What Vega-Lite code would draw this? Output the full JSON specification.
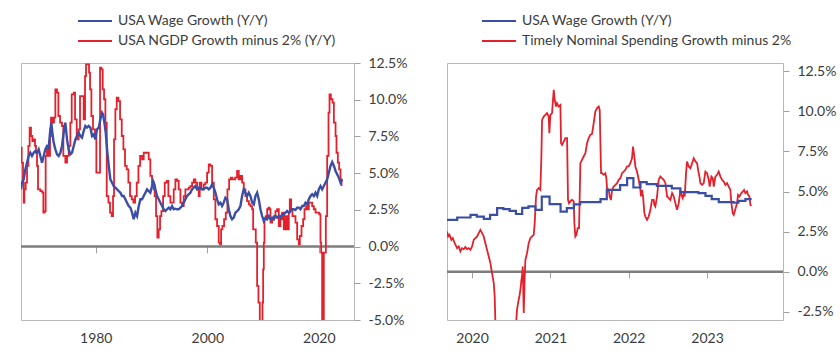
{
  "$schema": "https://vega.github.io/schema/vega-lite/v6.json",
  "padding": {"left": 19, "top": 13, "right": 0, "bottom": 0},
  "background": "white",
  "datasets": {
    "left": [
      {"series":"USA NGDP Growth minus 2% (Y/Y)","year":1966.60,"value":6.73},
      {"series":"USA NGDP Growth minus 2% (Y/Y)","year":1966.72,"value":5.71},
      {"series":"USA NGDP Growth minus 2% (Y/Y)","year":1966.96,"value":4.35},
      {"series":"USA NGDP Growth minus 2% (Y/Y)","year":1967.08,"value":2.99},
      {"series":"USA NGDP Growth minus 2% (Y/Y)","year":1967.20,"value":3.90},
      {"series":"USA NGDP Growth minus 2% (Y/Y)","year":1967.44,"value":4.35},
      {"series":"USA NGDP Growth minus 2% (Y/Y)","year":1967.68,"value":5.49},
      {"series":"USA NGDP Growth minus 2% (Y/Y)","year":1967.92,"value":6.85},
      {"series":"USA NGDP Growth minus 2% (Y/Y)","year":1968.15,"value":8.10},
      {"series":"USA NGDP Growth minus 2% (Y/Y)","year":1968.39,"value":7.53},
      {"series":"USA NGDP Growth minus 2% (Y/Y)","year":1968.63,"value":7.19},
      {"series":"USA NGDP Growth minus 2% (Y/Y)","year":1968.87,"value":7.30},
      {"series":"USA NGDP Growth minus 2% (Y/Y)","year":1969.11,"value":6.85},
      {"series":"USA NGDP Growth minus 2% (Y/Y)","year":1969.29,"value":6.39},
      {"series":"USA NGDP Growth minus 2% (Y/Y)","year":1969.47,"value":5.49},
      {"series":"USA NGDP Growth minus 2% (Y/Y)","year":1969.65,"value":3.90},
      {"series":"USA NGDP Growth minus 2% (Y/Y)","year":1970.07,"value":3.78},
      {"series":"USA NGDP Growth minus 2% (Y/Y)","year":1970.43,"value":3.67},
      {"series":"USA NGDP Growth minus 2% (Y/Y)","year":1970.61,"value":2.31},
      {"series":"USA NGDP Growth minus 2% (Y/Y)","year":1970.85,"value":2.42},
      {"series":"USA NGDP Growth minus 2% (Y/Y)","year":1971.02,"value":6.17},
      {"series":"USA NGDP Growth minus 2% (Y/Y)","year":1971.26,"value":6.73},
      {"series":"USA NGDP Growth minus 2% (Y/Y)","year":1971.56,"value":6.17},
      {"series":"USA NGDP Growth minus 2% (Y/Y)","year":1971.80,"value":7.53},
      {"series":"USA NGDP Growth minus 2% (Y/Y)","year":1971.98,"value":8.78},
      {"series":"USA NGDP Growth minus 2% (Y/Y)","year":1972.22,"value":8.44},
      {"series":"USA NGDP Growth minus 2% (Y/Y)","year":1972.52,"value":8.78},
      {"series":"USA NGDP Growth minus 2% (Y/Y)","year":1972.76,"value":10.71},
      {"series":"USA NGDP Growth minus 2% (Y/Y)","year":1973.06,"value":10.48},
      {"series":"USA NGDP Growth minus 2% (Y/Y)","year":1973.30,"value":8.89},
      {"series":"USA NGDP Growth minus 2% (Y/Y)","year":1973.60,"value":8.44},
      {"series":"USA NGDP Growth minus 2% (Y/Y)","year":1973.95,"value":8.21},
      {"series":"USA NGDP Growth minus 2% (Y/Y)","year":1974.19,"value":6.17},
      {"series":"USA NGDP Growth minus 2% (Y/Y)","year":1974.55,"value":5.71},
      {"series":"USA NGDP Growth minus 2% (Y/Y)","year":1974.85,"value":6.17},
      {"series":"USA NGDP Growth minus 2% (Y/Y)","year":1975.15,"value":6.85},
      {"series":"USA NGDP Growth minus 2% (Y/Y)","year":1975.45,"value":8.44},
      {"series":"USA NGDP Growth minus 2% (Y/Y)","year":1975.69,"value":10.37},
      {"series":"USA NGDP Growth minus 2% (Y/Y)","year":1976.05,"value":10.48},
      {"series":"USA NGDP Growth minus 2% (Y/Y)","year":1976.29,"value":8.66},
      {"series":"USA NGDP Growth minus 2% (Y/Y)","year":1976.59,"value":7.30},
      {"series":"USA NGDP Growth minus 2% (Y/Y)","year":1976.94,"value":7.98},
      {"series":"USA NGDP Growth minus 2% (Y/Y)","year":1977.18,"value":10.25},
      {"series":"USA NGDP Growth minus 2% (Y/Y)","year":1977.54,"value":10.25},
      {"series":"USA NGDP Growth minus 2% (Y/Y)","year":1977.84,"value":8.66},
      {"series":"USA NGDP Growth minus 2% (Y/Y)","year":1978.08,"value":11.61},
      {"series":"USA NGDP Growth minus 2% (Y/Y)","year":1978.26,"value":12.41},
      {"series":"USA NGDP Growth minus 2% (Y/Y)","year":1978.56,"value":12.41},
      {"series":"USA NGDP Growth minus 2% (Y/Y)","year":1978.80,"value":11.84},
      {"series":"USA NGDP Growth minus 2% (Y/Y)","year":1978.98,"value":10.71},
      {"series":"USA NGDP Growth minus 2% (Y/Y)","year":1979.22,"value":8.89},
      {"series":"USA NGDP Growth minus 2% (Y/Y)","year":1979.51,"value":7.98},
      {"series":"USA NGDP Growth minus 2% (Y/Y)","year":1979.87,"value":7.53},
      {"series":"USA NGDP Growth minus 2% (Y/Y)","year":1980.11,"value":5.03},
      {"series":"USA NGDP Growth minus 2% (Y/Y)","year":1980.47,"value":5.03},
      {"series":"USA NGDP Growth minus 2% (Y/Y)","year":1980.77,"value":12.18},
      {"series":"USA NGDP Growth minus 2% (Y/Y)","year":1981.01,"value":12.07},
      {"series":"USA NGDP Growth minus 2% (Y/Y)","year":1981.25,"value":10.71},
      {"series":"USA NGDP Growth minus 2% (Y/Y)","year":1981.49,"value":10.03},
      {"series":"USA NGDP Growth minus 2% (Y/Y)","year":1981.73,"value":8.44},
      {"series":"USA NGDP Growth minus 2% (Y/Y)","year":1981.97,"value":3.44},
      {"series":"USA NGDP Growth minus 2% (Y/Y)","year":1982.27,"value":2.99},
      {"series":"USA NGDP Growth minus 2% (Y/Y)","year":1982.56,"value":2.31},
      {"series":"USA NGDP Growth minus 2% (Y/Y)","year":1982.86,"value":2.08},
      {"series":"USA NGDP Growth minus 2% (Y/Y)","year":1983.10,"value":3.44},
      {"series":"USA NGDP Growth minus 2% (Y/Y)","year":1983.28,"value":7.30},
      {"series":"USA NGDP Growth minus 2% (Y/Y)","year":1983.52,"value":9.35},
      {"series":"USA NGDP Growth minus 2% (Y/Y)","year":1983.76,"value":10.14},
      {"series":"USA NGDP Growth minus 2% (Y/Y)","year":1984.06,"value":9.91},
      {"series":"USA NGDP Growth minus 2% (Y/Y)","year":1984.36,"value":8.66},
      {"series":"USA NGDP Growth minus 2% (Y/Y)","year":1984.66,"value":7.53},
      {"series":"USA NGDP Growth minus 2% (Y/Y)","year":1984.96,"value":6.62},
      {"series":"USA NGDP Growth minus 2% (Y/Y)","year":1985.25,"value":5.49},
      {"series":"USA NGDP Growth minus 2% (Y/Y)","year":1985.55,"value":5.26},
      {"series":"USA NGDP Growth minus 2% (Y/Y)","year":1985.85,"value":4.35},
      {"series":"USA NGDP Growth minus 2% (Y/Y)","year":1986.15,"value":3.44},
      {"series":"USA NGDP Growth minus 2% (Y/Y)","year":1986.45,"value":3.22},
      {"series":"USA NGDP Growth minus 2% (Y/Y)","year":1986.75,"value":2.99},
      {"series":"USA NGDP Growth minus 2% (Y/Y)","year":1987.05,"value":3.44},
      {"series":"USA NGDP Growth minus 2% (Y/Y)","year":1987.35,"value":4.35},
      {"series":"USA NGDP Growth minus 2% (Y/Y)","year":1987.65,"value":5.49},
      {"series":"USA NGDP Growth minus 2% (Y/Y)","year":1987.95,"value":6.17},
      {"series":"USA NGDP Growth minus 2% (Y/Y)","year":1988.30,"value":5.94},
      {"series":"USA NGDP Growth minus 2% (Y/Y)","year":1988.60,"value":6.39},
      {"series":"USA NGDP Growth minus 2% (Y/Y)","year":1989.20,"value":6.39},
      {"series":"USA NGDP Growth minus 2% (Y/Y)","year":1989.50,"value":5.94},
      {"series":"USA NGDP Growth minus 2% (Y/Y)","year":1989.79,"value":4.81},
      {"series":"USA NGDP Growth minus 2% (Y/Y)","year":1990.09,"value":4.35},
      {"series":"USA NGDP Growth minus 2% (Y/Y)","year":1990.39,"value":3.90},
      {"series":"USA NGDP Growth minus 2% (Y/Y)","year":1990.57,"value":3.44},
      {"series":"USA NGDP Growth minus 2% (Y/Y)","year":1990.81,"value":2.08},
      {"series":"USA NGDP Growth minus 2% (Y/Y)","year":1991.05,"value":0.61},
      {"series":"USA NGDP Growth minus 2% (Y/Y)","year":1991.29,"value":1.17},
      {"series":"USA NGDP Growth minus 2% (Y/Y)","year":1991.53,"value":2.08},
      {"series":"USA NGDP Growth minus 2% (Y/Y)","year":1991.77,"value":2.42},
      {"series":"USA NGDP Growth minus 2% (Y/Y)","year":1992.07,"value":3.44},
      {"series":"USA NGDP Growth minus 2% (Y/Y)","year":1992.37,"value":4.35},
      {"series":"USA NGDP Growth minus 2% (Y/Y)","year":1992.72,"value":4.47},
      {"series":"USA NGDP Growth minus 2% (Y/Y)","year":1993.02,"value":3.44},
      {"series":"USA NGDP Growth minus 2% (Y/Y)","year":1993.38,"value":2.99},
      {"series":"USA NGDP Growth minus 2% (Y/Y)","year":1993.68,"value":2.99},
      {"series":"USA NGDP Growth minus 2% (Y/Y)","year":1993.98,"value":3.90},
      {"series":"USA NGDP Growth minus 2% (Y/Y)","year":1994.28,"value":4.58},
      {"series":"USA NGDP Growth minus 2% (Y/Y)","year":1994.58,"value":4.47},
      {"series":"USA NGDP Growth minus 2% (Y/Y)","year":1994.88,"value":3.90},
      {"series":"USA NGDP Growth minus 2% (Y/Y)","year":1995.18,"value":2.99},
      {"series":"USA NGDP Growth minus 2% (Y/Y)","year":1995.47,"value":2.76},
      {"series":"USA NGDP Growth minus 2% (Y/Y)","year":1995.77,"value":3.44},
      {"series":"USA NGDP Growth minus 2% (Y/Y)","year":1996.07,"value":3.90},
      {"series":"USA NGDP Growth minus 2% (Y/Y)","year":1996.67,"value":4.01},
      {"series":"USA NGDP Growth minus 2% (Y/Y)","year":1996.97,"value":4.12},
      {"series":"USA NGDP Growth minus 2% (Y/Y)","year":1997.27,"value":4.35},
      {"series":"USA NGDP Growth minus 2% (Y/Y)","year":1997.57,"value":4.58},
      {"series":"USA NGDP Growth minus 2% (Y/Y)","year":1997.87,"value":4.35},
      {"series":"USA NGDP Growth minus 2% (Y/Y)","year":1998.17,"value":3.90},
      {"series":"USA NGDP Growth minus 2% (Y/Y)","year":1998.46,"value":3.44},
      {"series":"USA NGDP Growth minus 2% (Y/Y)","year":1998.64,"value":4.35},
      {"series":"USA NGDP Growth minus 2% (Y/Y)","year":1998.94,"value":3.90},
      {"series":"USA NGDP Growth minus 2% (Y/Y)","year":1999.36,"value":4.24},
      {"series":"USA NGDP Growth minus 2% (Y/Y)","year":1999.66,"value":4.35},
      {"series":"USA NGDP Growth minus 2% (Y/Y)","year":1999.96,"value":5.03},
      {"series":"USA NGDP Growth minus 2% (Y/Y)","year":2000.26,"value":5.60},
      {"series":"USA NGDP Growth minus 2% (Y/Y)","year":2000.56,"value":5.49},
      {"series":"USA NGDP Growth minus 2% (Y/Y)","year":2000.86,"value":4.35},
      {"series":"USA NGDP Growth minus 2% (Y/Y)","year":2001.16,"value":3.22},
      {"series":"USA NGDP Growth minus 2% (Y/Y)","year":2001.45,"value":1.86},
      {"series":"USA NGDP Growth minus 2% (Y/Y)","year":2001.75,"value":1.40},
      {"series":"USA NGDP Growth minus 2% (Y/Y)","year":2002.05,"value":0.27},
      {"series":"USA NGDP Growth minus 2% (Y/Y)","year":2002.29,"value":0.15},
      {"series":"USA NGDP Growth minus 2% (Y/Y)","year":2002.47,"value":1.17},
      {"series":"USA NGDP Growth minus 2% (Y/Y)","year":2002.71,"value":1.40},
      {"series":"USA NGDP Growth minus 2% (Y/Y)","year":2003.01,"value":1.86},
      {"series":"USA NGDP Growth minus 2% (Y/Y)","year":2003.31,"value":2.31},
      {"series":"USA NGDP Growth minus 2% (Y/Y)","year":2003.61,"value":3.90},
      {"series":"USA NGDP Growth minus 2% (Y/Y)","year":2003.91,"value":4.58},
      {"series":"USA NGDP Growth minus 2% (Y/Y)","year":2004.20,"value":4.69},
      {"series":"USA NGDP Growth minus 2% (Y/Y)","year":2004.50,"value":4.58},
      {"series":"USA NGDP Growth minus 2% (Y/Y)","year":2004.98,"value":4.69},
      {"series":"USA NGDP Growth minus 2% (Y/Y)","year":2005.34,"value":5.15},
      {"series":"USA NGDP Growth minus 2% (Y/Y)","year":2005.64,"value":4.58},
      {"series":"USA NGDP Growth minus 2% (Y/Y)","year":2005.94,"value":4.81},
      {"series":"USA NGDP Growth minus 2% (Y/Y)","year":2006.24,"value":4.35},
      {"series":"USA NGDP Growth minus 2% (Y/Y)","year":2006.54,"value":3.90},
      {"series":"USA NGDP Growth minus 2% (Y/Y)","year":2006.84,"value":3.44},
      {"series":"USA NGDP Growth minus 2% (Y/Y)","year":2007.13,"value":3.10},
      {"series":"USA NGDP Growth minus 2% (Y/Y)","year":2007.44,"value":2.88},
      {"series":"USA NGDP Growth minus 2% (Y/Y)","year":2007.74,"value":2.76},
      {"series":"USA NGDP Growth minus 2% (Y/Y)","year":2008.04,"value":2.54},
      {"series":"USA NGDP Growth minus 2% (Y/Y)","year":2008.22,"value":1.17},
      {"series":"USA NGDP Growth minus 2% (Y/Y)","year":2008.52,"value":1.17},
      {"series":"USA NGDP Growth minus 2% (Y/Y)","year":2008.69,"value":0.27},
      {"series":"USA NGDP Growth minus 2% (Y/Y)","year":2008.93,"value":-2.68},
      {"series":"USA NGDP Growth minus 2% (Y/Y)","year":2009.17,"value":-3.82},
      {"series":"USA NGDP Growth minus 2% (Y/Y)","year":2009.41,"value":-5.07},
      {"series":"USA NGDP Growth minus 2% (Y/Y)","year":2009.71,"value":-5.07},
      {"series":"USA NGDP Growth minus 2% (Y/Y)","year":2009.89,"value":-3.82},
      {"series":"USA NGDP Growth minus 2% (Y/Y)","year":2010.01,"value":-1.55},
      {"series":"USA NGDP Growth minus 2% (Y/Y)","year":2010.13,"value":0.27},
      {"series":"USA NGDP Growth minus 2% (Y/Y)","year":2010.25,"value":1.86},
      {"series":"USA NGDP Growth minus 2% (Y/Y)","year":2010.49,"value":2.08},
      {"series":"USA NGDP Growth minus 2% (Y/Y)","year":2010.73,"value":2.54},
      {"series":"USA NGDP Growth minus 2% (Y/Y)","year":2010.97,"value":2.65},
      {"series":"USA NGDP Growth minus 2% (Y/Y)","year":2011.15,"value":2.54},
      {"series":"USA NGDP Growth minus 2% (Y/Y)","year":2011.33,"value":1.63},
      {"series":"USA NGDP Growth minus 2% (Y/Y)","year":2011.62,"value":1.86},
      {"series":"USA NGDP Growth minus 2% (Y/Y)","year":2011.92,"value":2.08},
      {"series":"USA NGDP Growth minus 2% (Y/Y)","year":2012.22,"value":2.42},
      {"series":"USA NGDP Growth minus 2% (Y/Y)","year":2012.52,"value":2.54},
      {"series":"USA NGDP Growth minus 2% (Y/Y)","year":2012.82,"value":1.40},
      {"series":"USA NGDP Growth minus 2% (Y/Y)","year":2013.12,"value":1.86},
      {"series":"USA NGDP Growth minus 2% (Y/Y)","year":2013.42,"value":2.31},
      {"series":"USA NGDP Growth minus 2% (Y/Y)","year":2013.72,"value":1.17},
      {"series":"USA NGDP Growth minus 2% (Y/Y)","year":2014.02,"value":2.08},
      {"series":"USA NGDP Growth minus 2% (Y/Y)","year":2014.31,"value":1.17},
      {"series":"USA NGDP Growth minus 2% (Y/Y)","year":2014.61,"value":2.31},
      {"series":"USA NGDP Growth minus 2% (Y/Y)","year":2014.79,"value":3.22},
      {"series":"USA NGDP Growth minus 2% (Y/Y)","year":2015.03,"value":2.54},
      {"series":"USA NGDP Growth minus 2% (Y/Y)","year":2015.27,"value":2.08},
      {"series":"USA NGDP Growth minus 2% (Y/Y)","year":2015.57,"value":2.08},
      {"series":"USA NGDP Growth minus 2% (Y/Y)","year":2015.81,"value":1.63},
      {"series":"USA NGDP Growth minus 2% (Y/Y)","year":2016.11,"value":0.49},
      {"series":"USA NGDP Growth minus 2% (Y/Y)","year":2016.41,"value":0.15},
      {"series":"USA NGDP Growth minus 2% (Y/Y)","year":2016.59,"value":0.72},
      {"series":"USA NGDP Growth minus 2% (Y/Y)","year":2016.89,"value":1.40},
      {"series":"USA NGDP Growth minus 2% (Y/Y)","year":2017.18,"value":1.86},
      {"series":"USA NGDP Growth minus 2% (Y/Y)","year":2017.42,"value":2.54},
      {"series":"USA NGDP Growth minus 2% (Y/Y)","year":2017.72,"value":2.76},
      {"series":"USA NGDP Growth minus 2% (Y/Y)","year":2017.96,"value":2.54},
      {"series":"USA NGDP Growth minus 2% (Y/Y)","year":2018.20,"value":2.99},
      {"series":"USA NGDP Growth minus 2% (Y/Y)","year":2018.50,"value":2.99},
      {"series":"USA NGDP Growth minus 2% (Y/Y)","year":2018.80,"value":2.76},
      {"series":"USA NGDP Growth minus 2% (Y/Y)","year":2019.10,"value":2.54},
      {"series":"USA NGDP Growth minus 2% (Y/Y)","year":2019.40,"value":2.31},
      {"series":"USA NGDP Growth minus 2% (Y/Y)","year":2019.76,"value":2.31},
      {"series":"USA NGDP Growth minus 2% (Y/Y)","year":2020.06,"value":2.20},
      {"series":"USA NGDP Growth minus 2% (Y/Y)","year":2020.29,"value":0.27},
      {"series":"USA NGDP Growth minus 2% (Y/Y)","year":2020.41,"value":-0.41},
      {"series":"USA NGDP Growth minus 2% (Y/Y)","year":2020.59,"value":-9.0},
      {"series":"USA NGDP Growth minus 2% (Y/Y)","year":2020.77,"value":-9.0},
      {"series":"USA NGDP Growth minus 2% (Y/Y)","year":2020.89,"value":-0.41},
      {"series":"USA NGDP Growth minus 2% (Y/Y)","year":2021.07,"value":-0.41},
      {"series":"USA NGDP Growth minus 2% (Y/Y)","year":2021.25,"value":2.08},
      {"series":"USA NGDP Growth minus 2% (Y/Y)","year":2021.49,"value":6.17},
      {"series":"USA NGDP Growth minus 2% (Y/Y)","year":2021.73,"value":9.12},
      {"series":"USA NGDP Growth minus 2% (Y/Y)","year":2021.91,"value":10.37},
      {"series":"USA NGDP Growth minus 2% (Y/Y)","year":2022.15,"value":10.03},
      {"series":"USA NGDP Growth minus 2% (Y/Y)","year":2022.45,"value":9.80},
      {"series":"USA NGDP Growth minus 2% (Y/Y)","year":2022.69,"value":8.44},
      {"series":"USA NGDP Growth minus 2% (Y/Y)","year":2022.99,"value":7.53},
      {"series":"USA NGDP Growth minus 2% (Y/Y)","year":2023.16,"value":6.39},
      {"series":"USA NGDP Growth minus 2% (Y/Y)","year":2023.40,"value":5.71},
      {"series":"USA NGDP Growth minus 2% (Y/Y)","year":2023.64,"value":5.26},
      {"series":"USA NGDP Growth minus 2% (Y/Y)","year":2023.88,"value":4.58},
      {"series":"USA NGDP Growth minus 2% (Y/Y)","year":2024.06,"value":4.12},
      {"series":"USA Wage Growth (Y/Y)","year":1966.60,"value":3.90},
      {"series":"USA Wage Growth (Y/Y)","year":1966.78,"value":4.35},
      {"series":"USA Wage Growth (Y/Y)","year":1967.08,"value":4.58},
      {"series":"USA Wage Growth (Y/Y)","year":1967.38,"value":5.26},
      {"series":"USA Wage Growth (Y/Y)","year":1967.68,"value":5.71},
      {"series":"USA Wage Growth (Y/Y)","year":1967.98,"value":6.17},
      {"series":"USA Wage Growth (Y/Y)","year":1968.27,"value":6.39},
      {"series":"USA Wage Growth (Y/Y)","year":1968.57,"value":6.17},
      {"series":"USA Wage Growth (Y/Y)","year":1968.87,"value":6.39},
      {"series":"USA Wage Growth (Y/Y)","year":1969.17,"value":6.51},
      {"series":"USA Wage Growth (Y/Y)","year":1969.47,"value":6.39},
      {"series":"USA Wage Growth (Y/Y)","year":1969.77,"value":6.62},
      {"series":"USA Wage Growth (Y/Y)","year":1970.07,"value":6.17},
      {"series":"USA Wage Growth (Y/Y)","year":1970.37,"value":5.71},
      {"series":"USA Wage Growth (Y/Y)","year":1970.67,"value":6.17},
      {"series":"USA Wage Growth (Y/Y)","year":1970.96,"value":6.62},
      {"series":"USA Wage Growth (Y/Y)","year":1971.26,"value":6.85},
      {"series":"USA Wage Growth (Y/Y)","year":1971.56,"value":6.73},
      {"series":"USA Wage Growth (Y/Y)","year":1971.86,"value":7.98},
      {"series":"USA Wage Growth (Y/Y)","year":1972.04,"value":8.44},
      {"series":"USA Wage Growth (Y/Y)","year":1972.22,"value":7.76},
      {"series":"USA Wage Growth (Y/Y)","year":1972.46,"value":7.08},
      {"series":"USA Wage Growth (Y/Y)","year":1972.76,"value":6.62},
      {"series":"USA Wage Growth (Y/Y)","year":1973.06,"value":6.28},
      {"series":"USA Wage Growth (Y/Y)","year":1973.36,"value":6.17},
      {"series":"USA Wage Growth (Y/Y)","year":1973.66,"value":6.39},
      {"series":"USA Wage Growth (Y/Y)","year":1973.95,"value":6.85},
      {"series":"USA Wage Growth (Y/Y)","year":1974.25,"value":7.76},
      {"series":"USA Wage Growth (Y/Y)","year":1974.55,"value":8.44},
      {"series":"USA Wage Growth (Y/Y)","year":1974.85,"value":7.30},
      {"series":"USA Wage Growth (Y/Y)","year":1975.15,"value":6.62},
      {"series":"USA Wage Growth (Y/Y)","year":1975.45,"value":6.28},
      {"series":"USA Wage Growth (Y/Y)","year":1975.75,"value":6.39},
      {"series":"USA Wage Growth (Y/Y)","year":1976.05,"value":6.85},
      {"series":"USA Wage Growth (Y/Y)","year":1976.35,"value":7.30},
      {"series":"USA Wage Growth (Y/Y)","year":1976.64,"value":7.53},
      {"series":"USA Wage Growth (Y/Y)","year":1976.94,"value":7.76},
      {"series":"USA Wage Growth (Y/Y)","year":1977.24,"value":7.53},
      {"series":"USA Wage Growth (Y/Y)","year":1977.54,"value":7.42},
      {"series":"USA Wage Growth (Y/Y)","year":1977.84,"value":7.87},
      {"series":"USA Wage Growth (Y/Y)","year":1978.14,"value":8.21},
      {"series":"USA Wage Growth (Y/Y)","year":1978.44,"value":8.10},
      {"series":"USA Wage Growth (Y/Y)","year":1978.74,"value":8.21},
      {"series":"USA Wage Growth (Y/Y)","year":1979.04,"value":8.10},
      {"series":"USA Wage Growth (Y/Y)","year":1979.34,"value":7.53},
      {"series":"USA Wage Growth (Y/Y)","year":1979.63,"value":7.64},
      {"series":"USA Wage Growth (Y/Y)","year":1979.93,"value":7.30},
      {"series":"USA Wage Growth (Y/Y)","year":1980.23,"value":7.98},
      {"series":"USA Wage Growth (Y/Y)","year":1980.53,"value":8.10},
      {"series":"USA Wage Growth (Y/Y)","year":1980.83,"value":8.66},
      {"series":"USA Wage Growth (Y/Y)","year":1981.13,"value":9.12},
      {"series":"USA Wage Growth (Y/Y)","year":1981.31,"value":9.00},
      {"series":"USA Wage Growth (Y/Y)","year":1981.55,"value":8.44},
      {"series":"USA Wage Growth (Y/Y)","year":1981.79,"value":7.76},
      {"series":"USA Wage Growth (Y/Y)","year":1982.03,"value":6.62},
      {"series":"USA Wage Growth (Y/Y)","year":1982.33,"value":5.49},
      {"series":"USA Wage Growth (Y/Y)","year":1982.62,"value":4.58},
      {"series":"USA Wage Growth (Y/Y)","year":1982.92,"value":4.35},
      {"series":"USA Wage Growth (Y/Y)","year":1983.22,"value":4.12},
      {"series":"USA Wage Growth (Y/Y)","year":1983.52,"value":4.01},
      {"series":"USA Wage Growth (Y/Y)","year":1983.82,"value":3.90},
      {"series":"USA Wage Growth (Y/Y)","year":1984.12,"value":3.78},
      {"series":"USA Wage Growth (Y/Y)","year":1984.42,"value":3.67},
      {"series":"USA Wage Growth (Y/Y)","year":1984.72,"value":3.44},
      {"series":"USA Wage Growth (Y/Y)","year":1985.02,"value":3.44},
      {"series":"USA Wage Growth (Y/Y)","year":1985.31,"value":3.22},
      {"series":"USA Wage Growth (Y/Y)","year":1985.61,"value":2.99},
      {"series":"USA Wage Growth (Y/Y)","year":1985.91,"value":2.76},
      {"series":"USA Wage Growth (Y/Y)","year":1986.21,"value":2.65},
      {"series":"USA Wage Growth (Y/Y)","year":1986.51,"value":2.31},
      {"series":"USA Wage Growth (Y/Y)","year":1986.81,"value":1.86},
      {"series":"USA Wage Growth (Y/Y)","year":1987.11,"value":2.31},
      {"series":"USA Wage Growth (Y/Y)","year":1987.41,"value":2.08},
      {"series":"USA Wage Growth (Y/Y)","year":1987.71,"value":2.76},
      {"series":"USA Wage Growth (Y/Y)","year":1988.01,"value":3.22},
      {"series":"USA Wage Growth (Y/Y)","year":1988.30,"value":3.22},
      {"series":"USA Wage Growth (Y/Y)","year":1988.60,"value":3.44},
      {"series":"USA Wage Growth (Y/Y)","year":1988.90,"value":3.67},
      {"series":"USA Wage Growth (Y/Y)","year":1989.20,"value":3.90},
      {"series":"USA Wage Growth (Y/Y)","year":1989.50,"value":3.78},
      {"series":"USA Wage Growth (Y/Y)","year":1989.79,"value":3.67},
      {"series":"USA Wage Growth (Y/Y)","year":1990.09,"value":4.12},
      {"series":"USA Wage Growth (Y/Y)","year":1990.27,"value":4.47},
      {"series":"USA Wage Growth (Y/Y)","year":1990.51,"value":4.24},
      {"series":"USA Wage Growth (Y/Y)","year":1990.69,"value":3.90},
      {"series":"USA Wage Growth (Y/Y)","year":1990.99,"value":3.44},
      {"series":"USA Wage Growth (Y/Y)","year":1991.29,"value":3.22},
      {"series":"USA Wage Growth (Y/Y)","year":1991.59,"value":2.99},
      {"series":"USA Wage Growth (Y/Y)","year":1991.89,"value":2.76},
      {"series":"USA Wage Growth (Y/Y)","year":1992.19,"value":2.54},
      {"series":"USA Wage Growth (Y/Y)","year":1992.49,"value":2.42},
      {"series":"USA Wage Growth (Y/Y)","year":1992.78,"value":2.54},
      {"series":"USA Wage Growth (Y/Y)","year":1993.08,"value":2.65},
      {"series":"USA Wage Growth (Y/Y)","year":1993.38,"value":2.54},
      {"series":"USA Wage Growth (Y/Y)","year":1993.68,"value":2.76},
      {"series":"USA Wage Growth (Y/Y)","year":1993.98,"value":2.54},
      {"series":"USA Wage Growth (Y/Y)","year":1994.28,"value":2.58},
      {"series":"USA Wage Growth (Y/Y)","year":1994.58,"value":2.54},
      {"series":"USA Wage Growth (Y/Y)","year":1994.88,"value":2.54},
      {"series":"USA Wage Growth (Y/Y)","year":1995.18,"value":2.65},
      {"series":"USA Wage Growth (Y/Y)","year":1995.47,"value":2.76},
      {"series":"USA Wage Growth (Y/Y)","year":1995.77,"value":2.99},
      {"series":"USA Wage Growth (Y/Y)","year":1996.07,"value":3.22},
      {"series":"USA Wage Growth (Y/Y)","year":1996.37,"value":3.44},
      {"series":"USA Wage Growth (Y/Y)","year":1996.67,"value":3.56},
      {"series":"USA Wage Growth (Y/Y)","year":1996.97,"value":3.67},
      {"series":"USA Wage Growth (Y/Y)","year":1997.27,"value":3.90},
      {"series":"USA Wage Growth (Y/Y)","year":1997.57,"value":4.01},
      {"series":"USA Wage Growth (Y/Y)","year":1997.87,"value":4.12},
      {"series":"USA Wage Growth (Y/Y)","year":1998.17,"value":3.90},
      {"series":"USA Wage Growth (Y/Y)","year":1998.46,"value":4.01},
      {"series":"USA Wage Growth (Y/Y)","year":1998.76,"value":4.01},
      {"series":"USA Wage Growth (Y/Y)","year":1999.06,"value":3.90},
      {"series":"USA Wage Growth (Y/Y)","year":1999.36,"value":3.90},
      {"series":"USA Wage Growth (Y/Y)","year":1999.66,"value":4.01},
      {"series":"USA Wage Growth (Y/Y)","year":1999.96,"value":4.01},
      {"series":"USA Wage Growth (Y/Y)","year":2000.26,"value":3.90},
      {"series":"USA Wage Growth (Y/Y)","year":2000.56,"value":4.01},
      {"series":"USA Wage Growth (Y/Y)","year":2000.86,"value":4.24},
      {"series":"USA Wage Growth (Y/Y)","year":2001.16,"value":4.01},
      {"series":"USA Wage Growth (Y/Y)","year":2001.45,"value":3.67},
      {"series":"USA Wage Growth (Y/Y)","year":2001.75,"value":3.22},
      {"series":"USA Wage Growth (Y/Y)","year":2002.05,"value":2.88},
      {"series":"USA Wage Growth (Y/Y)","year":2002.35,"value":2.99},
      {"series":"USA Wage Growth (Y/Y)","year":2002.65,"value":2.76},
      {"series":"USA Wage Growth (Y/Y)","year":2002.95,"value":2.99},
      {"series":"USA Wage Growth (Y/Y)","year":2003.25,"value":3.33},
      {"series":"USA Wage Growth (Y/Y)","year":2003.55,"value":3.22},
      {"series":"USA Wage Growth (Y/Y)","year":2003.85,"value":2.54},
      {"series":"USA Wage Growth (Y/Y)","year":2004.14,"value":2.08},
      {"series":"USA Wage Growth (Y/Y)","year":2004.44,"value":1.86},
      {"series":"USA Wage Growth (Y/Y)","year":2004.74,"value":1.97},
      {"series":"USA Wage Growth (Y/Y)","year":2005.04,"value":2.31},
      {"series":"USA Wage Growth (Y/Y)","year":2005.34,"value":2.42},
      {"series":"USA Wage Growth (Y/Y)","year":2005.64,"value":2.54},
      {"series":"USA Wage Growth (Y/Y)","year":2005.94,"value":2.76},
      {"series":"USA Wage Growth (Y/Y)","year":2006.24,"value":3.44},
      {"series":"USA Wage Growth (Y/Y)","year":2006.54,"value":3.90},
      {"series":"USA Wage Growth (Y/Y)","year":2006.84,"value":3.67},
      {"series":"USA Wage Growth (Y/Y)","year":2007.14,"value":3.44},
      {"series":"USA Wage Growth (Y/Y)","year":2007.44,"value":3.67},
      {"series":"USA Wage Growth (Y/Y)","year":2007.74,"value":3.44},
      {"series":"USA Wage Growth (Y/Y)","year":2008.04,"value":2.99},
      {"series":"USA Wage Growth (Y/Y)","year":2008.34,"value":2.88},
      {"series":"USA Wage Growth (Y/Y)","year":2008.63,"value":3.44},
      {"series":"USA Wage Growth (Y/Y)","year":2008.93,"value":3.67},
      {"series":"USA Wage Growth (Y/Y)","year":2009.23,"value":3.22},
      {"series":"USA Wage Growth (Y/Y)","year":2009.53,"value":2.54},
      {"series":"USA Wage Growth (Y/Y)","year":2009.83,"value":2.08},
      {"series":"USA Wage Growth (Y/Y)","year":2010.13,"value":1.74},
      {"series":"USA Wage Growth (Y/Y)","year":2010.43,"value":1.97},
      {"series":"USA Wage Growth (Y/Y)","year":2010.73,"value":1.86},
      {"series":"USA Wage Growth (Y/Y)","year":2011.03,"value":2.08},
      {"series":"USA Wage Growth (Y/Y)","year":2011.33,"value":1.86},
      {"series":"USA Wage Growth (Y/Y)","year":2011.62,"value":1.97},
      {"series":"USA Wage Growth (Y/Y)","year":2011.92,"value":1.86},
      {"series":"USA Wage Growth (Y/Y)","year":2012.22,"value":2.08},
      {"series":"USA Wage Growth (Y/Y)","year":2012.52,"value":1.97},
      {"series":"USA Wage Growth (Y/Y)","year":2012.82,"value":2.08},
      {"series":"USA Wage Growth (Y/Y)","year":2013.12,"value":1.97},
      {"series":"USA Wage Growth (Y/Y)","year":2013.42,"value":2.20},
      {"series":"USA Wage Growth (Y/Y)","year":2013.72,"value":2.20},
      {"series":"USA Wage Growth (Y/Y)","year":2014.02,"value":2.31},
      {"series":"USA Wage Growth (Y/Y)","year":2014.31,"value":2.42},
      {"series":"USA Wage Growth (Y/Y)","year":2014.61,"value":2.31},
      {"series":"USA Wage Growth (Y/Y)","year":2014.91,"value":2.42},
      {"series":"USA Wage Growth (Y/Y)","year":2015.21,"value":2.54},
      {"series":"USA Wage Growth (Y/Y)","year":2015.51,"value":2.54},
      {"series":"USA Wage Growth (Y/Y)","year":2015.81,"value":2.49},
      {"series":"USA Wage Growth (Y/Y)","year":2016.11,"value":2.65},
      {"series":"USA Wage Growth (Y/Y)","year":2016.41,"value":2.65},
      {"series":"USA Wage Growth (Y/Y)","year":2016.71,"value":2.54},
      {"series":"USA Wage Growth (Y/Y)","year":2017.01,"value":2.76},
      {"series":"USA Wage Growth (Y/Y)","year":2017.30,"value":2.76},
      {"series":"USA Wage Growth (Y/Y)","year":2017.60,"value":2.99},
      {"series":"USA Wage Growth (Y/Y)","year":2017.90,"value":2.88},
      {"series":"USA Wage Growth (Y/Y)","year":2018.20,"value":3.22},
      {"series":"USA Wage Growth (Y/Y)","year":2018.50,"value":3.44},
      {"series":"USA Wage Growth (Y/Y)","year":2018.80,"value":3.56},
      {"series":"USA Wage Growth (Y/Y)","year":2019.10,"value":3.44},
      {"series":"USA Wage Growth (Y/Y)","year":2019.40,"value":3.67},
      {"series":"USA Wage Growth (Y/Y)","year":2019.70,"value":3.44},
      {"series":"USA Wage Growth (Y/Y)","year":2019.99,"value":3.90},
      {"series":"USA Wage Growth (Y/Y)","year":2020.29,"value":4.12},
      {"series":"USA Wage Growth (Y/Y)","year":2020.59,"value":3.90},
      {"series":"USA Wage Growth (Y/Y)","year":2020.89,"value":4.12},
      {"series":"USA Wage Growth (Y/Y)","year":2021.19,"value":4.35},
      {"series":"USA Wage Growth (Y/Y)","year":2021.49,"value":4.58},
      {"series":"USA Wage Growth (Y/Y)","year":2021.79,"value":5.03},
      {"series":"USA Wage Growth (Y/Y)","year":2022.09,"value":5.49},
      {"series":"USA Wage Growth (Y/Y)","year":2022.39,"value":5.76},
      {"series":"USA Wage Growth (Y/Y)","year":2022.57,"value":5.60},
      {"series":"USA Wage Growth (Y/Y)","year":2022.81,"value":5.37},
      {"series":"USA Wage Growth (Y/Y)","year":2022.99,"value":5.15},
      {"series":"USA Wage Growth (Y/Y)","year":2023.28,"value":4.92},
      {"series":"USA Wage Growth (Y/Y)","year":2023.58,"value":4.69},
      {"series":"USA Wage Growth (Y/Y)","year":2023.88,"value":4.35},
      {"series":"USA Wage Growth (Y/Y)","year":2024.06,"value":4.47},
      {"series":"USA Wage Growth (Y/Y)","year":2024.18,"value":4.58}
    ],
    "right": [
      {"series":"USA Wage Growth (Y/Y)","year":2019.68,"value":3.23},
      {"series":"USA Wage Growth (Y/Y)","year":2019.81,"value":3.38},
      {"series":"USA Wage Growth (Y/Y)","year":2019.98,"value":3.54},
      {"series":"USA Wage Growth (Y/Y)","year":2020.06,"value":3.44},
      {"series":"USA Wage Growth (Y/Y)","year":2020.15,"value":3.30},
      {"series":"USA Wage Growth (Y/Y)","year":2020.23,"value":3.55},
      {"series":"USA Wage Growth (Y/Y)","year":2020.32,"value":3.96},
      {"series":"USA Wage Growth (Y/Y)","year":2020.40,"value":3.90},
      {"series":"USA Wage Growth (Y/Y)","year":2020.48,"value":3.80},
      {"series":"USA Wage Growth (Y/Y)","year":2020.56,"value":3.60},
      {"series":"USA Wage Growth (Y/Y)","year":2020.64,"value":3.98},
      {"series":"USA Wage Growth (Y/Y)","year":2020.72,"value":4.08},
      {"series":"USA Wage Growth (Y/Y)","year":2020.81,"value":3.85},
      {"series":"USA Wage Growth (Y/Y)","year":2020.89,"value":4.68},
      {"series":"USA Wage Growth (Y/Y)","year":2020.99,"value":4.22},
      {"series":"USA Wage Growth (Y/Y)","year":2021.13,"value":3.75},
      {"series":"USA Wage Growth (Y/Y)","year":2021.21,"value":3.96},
      {"series":"USA Wage Growth (Y/Y)","year":2021.30,"value":4.20},
      {"series":"USA Wage Growth (Y/Y)","year":2021.38,"value":4.34},
      {"series":"USA Wage Growth (Y/Y)","year":2021.64,"value":4.52},
      {"series":"USA Wage Growth (Y/Y)","year":2021.72,"value":5.10},
      {"series":"USA Wage Growth (Y/Y)","year":2021.89,"value":5.40},
      {"series":"USA Wage Growth (Y/Y)","year":2021.98,"value":5.83},
      {"series":"USA Wage Growth (Y/Y)","year":2022.06,"value":5.25},
      {"series":"USA Wage Growth (Y/Y)","year":2022.15,"value":5.58},
      {"series":"USA Wage Growth (Y/Y)","year":2022.23,"value":5.46},
      {"series":"USA Wage Growth (Y/Y)","year":2022.36,"value":5.35},
      {"series":"USA Wage Growth (Y/Y)","year":2022.55,"value":5.20},
      {"series":"USA Wage Growth (Y/Y)","year":2022.66,"value":4.96},
      {"series":"USA Wage Growth (Y/Y)","year":2022.89,"value":4.90},
      {"series":"USA Wage Growth (Y/Y)","year":2022.98,"value":4.73},
      {"series":"USA Wage Growth (Y/Y)","year":2023.06,"value":4.52},
      {"series":"USA Wage Growth (Y/Y)","year":2023.15,"value":4.34},
      {"series":"USA Wage Growth (Y/Y)","year":2023.34,"value":4.30},
      {"series":"USA Wage Growth (Y/Y)","year":2023.40,"value":4.42},
      {"series":"USA Wage Growth (Y/Y)","year":2023.49,"value":4.52},
      {"series":"USA Wage Growth (Y/Y)","year":2023.57,"value":4.52},
      {"series":"Timely Nominal Spending Growth minus 2%","year":2019.681,"value":2.51},
      {"series":"Timely Nominal Spending Growth minus 2%","year":2019.694,"value":2.20},
      {"series":"Timely Nominal Spending Growth minus 2%","year":2019.711,"value":2.30},
      {"series":"Timely Nominal Spending Growth minus 2%","year":2019.736,"value":1.99},
      {"series":"Timely Nominal Spending Growth minus 2%","year":2019.753,"value":2.10},
      {"series":"Timely Nominal Spending Growth minus 2%","year":2019.779,"value":1.78},
      {"series":"Timely Nominal Spending Growth minus 2%","year":2019.809,"value":1.47},
      {"series":"Timely Nominal Spending Growth minus 2%","year":2019.830,"value":1.58},
      {"series":"Timely Nominal Spending Growth minus 2%","year":2019.851,"value":1.27},
      {"series":"Timely Nominal Spending Growth minus 2%","year":2019.872,"value":1.47},
      {"series":"Timely Nominal Spending Growth minus 2%","year":2019.894,"value":1.41},
      {"series":"Timely Nominal Spending Growth minus 2%","year":2019.915,"value":1.54},
      {"series":"Timely Nominal Spending Growth minus 2%","year":2019.936,"value":1.41},
      {"series":"Timely Nominal Spending Growth minus 2%","year":2019.957,"value":1.47},
      {"series":"Timely Nominal Spending Growth minus 2%","year":2019.979,"value":1.37},
      {"series":"Timely Nominal Spending Growth minus 2%","year":2020.000,"value":1.58},
      {"series":"Timely Nominal Spending Growth minus 2%","year":2020.021,"value":1.99},
      {"series":"Timely Nominal Spending Growth minus 2%","year":2020.043,"value":2.10},
      {"series":"Timely Nominal Spending Growth minus 2%","year":2020.064,"value":2.20},
      {"series":"Timely Nominal Spending Growth minus 2%","year":2020.085,"value":2.41},
      {"series":"Timely Nominal Spending Growth minus 2%","year":2020.106,"value":2.61},
      {"series":"Timely Nominal Spending Growth minus 2%","year":2020.128,"value":2.41},
      {"series":"Timely Nominal Spending Growth minus 2%","year":2020.149,"value":2.20},
      {"series":"Timely Nominal Spending Growth minus 2%","year":2020.170,"value":1.78},
      {"series":"Timely Nominal Spending Growth minus 2%","year":2020.191,"value":1.37},
      {"series":"Timely Nominal Spending Growth minus 2%","year":2020.213,"value":0.95},
      {"series":"Timely Nominal Spending Growth minus 2%","year":2020.234,"value":0.54},
      {"series":"Timely Nominal Spending Growth minus 2%","year":2020.255,"value":-0.08},
      {"series":"Timely Nominal Spending Growth minus 2%","year":2020.277,"value":-0.71},
      {"series":"Timely Nominal Spending Growth minus 2%","year":2020.289,"value":-1.54},
      {"series":"Timely Nominal Spending Growth minus 2%","year":2020.298,"value":-3.20},
      {"series":"Timely Nominal Spending Growth minus 2%","year":2020.320,"value":-8.00},
      {"series":"Timely Nominal Spending Growth minus 2%","year":2020.540,"value":-8.00},
      {"series":"Timely Nominal Spending Growth minus 2%","year":2020.562,"value":-3.20},
      {"series":"Timely Nominal Spending Growth minus 2%","year":2020.574,"value":-2.37},
      {"series":"Timely Nominal Spending Growth minus 2%","year":2020.587,"value":-1.95},
      {"series":"Timely Nominal Spending Growth minus 2%","year":2020.604,"value":-1.54},
      {"series":"Timely Nominal Spending Growth minus 2%","year":2020.617,"value":-1.12},
      {"series":"Timely Nominal Spending Growth minus 2%","year":2020.630,"value":-0.50},
      {"series":"Timely Nominal Spending Growth minus 2%","year":2020.638,"value":-0.29},
      {"series":"Timely Nominal Spending Growth minus 2%","year":2020.647,"value":0.33},
      {"series":"Timely Nominal Spending Growth minus 2%","year":2020.660,"value":-2.57},
      {"series":"Timely Nominal Spending Growth minus 2%","year":2020.672,"value":-0.29},
      {"series":"Timely Nominal Spending Growth minus 2%","year":2020.681,"value":0.75},
      {"series":"Timely Nominal Spending Growth minus 2%","year":2020.702,"value":1.16},
      {"series":"Timely Nominal Spending Growth minus 2%","year":2020.723,"value":1.78},
      {"series":"Timely Nominal Spending Growth minus 2%","year":2020.745,"value":2.10},
      {"series":"Timely Nominal Spending Growth minus 2%","year":2020.766,"value":2.20},
      {"series":"Timely Nominal Spending Growth minus 2%","year":2020.787,"value":2.30},
      {"series":"Timely Nominal Spending Growth minus 2%","year":2020.800,"value":3.03},
      {"series":"Timely Nominal Spending Growth minus 2%","year":2020.817,"value":4.69},
      {"series":"Timely Nominal Spending Growth minus 2%","year":2020.830,"value":5.10},
      {"series":"Timely Nominal Spending Growth minus 2%","year":2020.851,"value":5.21},
      {"series":"Timely Nominal Spending Growth minus 2%","year":2020.872,"value":5.10},
      {"series":"Timely Nominal Spending Growth minus 2%","year":2020.885,"value":7.18},
      {"series":"Timely Nominal Spending Growth minus 2%","year":2020.894,"value":9.46},
      {"series":"Timely Nominal Spending Growth minus 2%","year":2020.915,"value":9.67},
      {"series":"Timely Nominal Spending Growth minus 2%","year":2020.936,"value":9.77},
      {"series":"Timely Nominal Spending Growth minus 2%","year":2020.957,"value":9.88},
      {"series":"Timely Nominal Spending Growth minus 2%","year":2020.979,"value":9.67},
      {"series":"Timely Nominal Spending Growth minus 2%","year":2020.987,"value":8.63},
      {"series":"Timely Nominal Spending Growth minus 2%","year":2021.000,"value":9.77},
      {"series":"Timely Nominal Spending Growth minus 2%","year":2021.021,"value":9.88},
      {"series":"Timely Nominal Spending Growth minus 2%","year":2021.043,"value":11.33},
      {"series":"Timely Nominal Spending Growth minus 2%","year":2021.055,"value":10.71},
      {"series":"Timely Nominal Spending Growth minus 2%","year":2021.072,"value":10.29},
      {"series":"Timely Nominal Spending Growth minus 2%","year":2021.085,"value":10.50},
      {"series":"Timely Nominal Spending Growth minus 2%","year":2021.106,"value":10.29},
      {"series":"Timely Nominal Spending Growth minus 2%","year":2021.128,"value":10.39},
      {"series":"Timely Nominal Spending Growth minus 2%","year":2021.136,"value":8.01},
      {"series":"Timely Nominal Spending Growth minus 2%","year":2021.149,"value":7.90},
      {"series":"Timely Nominal Spending Growth minus 2%","year":2021.170,"value":8.11},
      {"series":"Timely Nominal Spending Growth minus 2%","year":2021.191,"value":8.32},
      {"series":"Timely Nominal Spending Growth minus 2%","year":2021.213,"value":8.32},
      {"series":"Timely Nominal Spending Growth minus 2%","year":2021.225,"value":4.48},
      {"series":"Timely Nominal Spending Growth minus 2%","year":2021.238,"value":4.27},
      {"series":"Timely Nominal Spending Growth minus 2%","year":2021.255,"value":4.38},
      {"series":"Timely Nominal Spending Growth minus 2%","year":2021.276,"value":4.48},
      {"series":"Timely Nominal Spending Growth minus 2%","year":2021.298,"value":4.38},
      {"series":"Timely Nominal Spending Growth minus 2%","year":2021.306,"value":3.03},
      {"series":"Timely Nominal Spending Growth minus 2%","year":2021.319,"value":2.20},
      {"series":"Timely Nominal Spending Growth minus 2%","year":2021.332,"value":2.30},
      {"series":"Timely Nominal Spending Growth minus 2%","year":2021.349,"value":2.72},
      {"series":"Timely Nominal Spending Growth minus 2%","year":2021.366,"value":2.72},
      {"series":"Timely Nominal Spending Growth minus 2%","year":2021.383,"value":6.76},
      {"series":"Timely Nominal Spending Growth minus 2%","year":2021.404,"value":6.97},
      {"series":"Timely Nominal Spending Growth minus 2%","year":2021.425,"value":7.18},
      {"series":"Timely Nominal Spending Growth minus 2%","year":2021.447,"value":7.39},
      {"series":"Timely Nominal Spending Growth minus 2%","year":2021.468,"value":8.01},
      {"series":"Timely Nominal Spending Growth minus 2%","year":2021.489,"value":8.32},
      {"series":"Timely Nominal Spending Growth minus 2%","year":2021.510,"value":8.53},
      {"series":"Timely Nominal Spending Growth minus 2%","year":2021.532,"value":8.59},
      {"series":"Timely Nominal Spending Growth minus 2%","year":2021.553,"value":9.25},
      {"series":"Timely Nominal Spending Growth minus 2%","year":2021.574,"value":9.98},
      {"series":"Timely Nominal Spending Growth minus 2%","year":2021.596,"value":10.19},
      {"series":"Timely Nominal Spending Growth minus 2%","year":2021.617,"value":10.29},
      {"series":"Timely Nominal Spending Growth minus 2%","year":2021.630,"value":10.08},
      {"series":"Timely Nominal Spending Growth minus 2%","year":2021.638,"value":8.22},
      {"series":"Timely Nominal Spending Growth minus 2%","year":2021.647,"value":6.14},
      {"series":"Timely Nominal Spending Growth minus 2%","year":2021.659,"value":6.14},
      {"series":"Timely Nominal Spending Growth minus 2%","year":2021.681,"value":6.04},
      {"series":"Timely Nominal Spending Growth minus 2%","year":2021.702,"value":6.14},
      {"series":"Timely Nominal Spending Growth minus 2%","year":2021.715,"value":5.83},
      {"series":"Timely Nominal Spending Growth minus 2%","year":2021.723,"value":5.21},
      {"series":"Timely Nominal Spending Growth minus 2%","year":2021.745,"value":5.10},
      {"series":"Timely Nominal Spending Growth minus 2%","year":2021.757,"value":4.69},
      {"series":"Timely Nominal Spending Growth minus 2%","year":2021.774,"value":4.48},
      {"series":"Timely Nominal Spending Growth minus 2%","year":2021.787,"value":5.10},
      {"series":"Timely Nominal Spending Growth minus 2%","year":2021.808,"value":5.31},
      {"series":"Timely Nominal Spending Growth minus 2%","year":2021.830,"value":5.41},
      {"series":"Timely Nominal Spending Growth minus 2%","year":2021.851,"value":5.52},
      {"series":"Timely Nominal Spending Growth minus 2%","year":2021.872,"value":5.73},
      {"series":"Timely Nominal Spending Growth minus 2%","year":2021.894,"value":5.83},
      {"series":"Timely Nominal Spending Growth minus 2%","year":2021.915,"value":6.14},
      {"series":"Timely Nominal Spending Growth minus 2%","year":2021.936,"value":6.24},
      {"series":"Timely Nominal Spending Growth minus 2%","year":2021.957,"value":6.35},
      {"series":"Timely Nominal Spending Growth minus 2%","year":2021.979,"value":6.56},
      {"series":"Timely Nominal Spending Growth minus 2%","year":2022.000,"value":6.56},
      {"series":"Timely Nominal Spending Growth minus 2%","year":2022.021,"value":6.76},
      {"series":"Timely Nominal Spending Growth minus 2%","year":2022.042,"value":7.07},
      {"series":"Timely Nominal Spending Growth minus 2%","year":2022.055,"value":7.80},
      {"series":"Timely Nominal Spending Growth minus 2%","year":2022.072,"value":7.18},
      {"series":"Timely Nominal Spending Growth minus 2%","year":2022.085,"value":6.56},
      {"series":"Timely Nominal Spending Growth minus 2%","year":2022.106,"value":6.24},
      {"series":"Timely Nominal Spending Growth minus 2%","year":2022.128,"value":5.73},
      {"series":"Timely Nominal Spending Growth minus 2%","year":2022.149,"value":5.10},
      {"series":"Timely Nominal Spending Growth minus 2%","year":2022.157,"value":4.69},
      {"series":"Timely Nominal Spending Growth minus 2%","year":2022.170,"value":5.10},
      {"series":"Timely Nominal Spending Growth minus 2%","year":2022.183,"value":4.69},
      {"series":"Timely Nominal Spending Growth minus 2%","year":2022.200,"value":3.65},
      {"series":"Timely Nominal Spending Growth minus 2%","year":2022.213,"value":3.44},
      {"series":"Timely Nominal Spending Growth minus 2%","year":2022.234,"value":3.24},
      {"series":"Timely Nominal Spending Growth minus 2%","year":2022.255,"value":3.44},
      {"series":"Timely Nominal Spending Growth minus 2%","year":2022.277,"value":3.86},
      {"series":"Timely Nominal Spending Growth minus 2%","year":2022.298,"value":4.48},
      {"series":"Timely Nominal Spending Growth minus 2%","year":2022.319,"value":4.48},
      {"series":"Timely Nominal Spending Growth minus 2%","year":2022.328,"value":4.17},
      {"series":"Timely Nominal Spending Growth minus 2%","year":2022.340,"value":4.07},
      {"series":"Timely Nominal Spending Growth minus 2%","year":2022.362,"value":4.69},
      {"series":"Timely Nominal Spending Growth minus 2%","year":2022.383,"value":5.73},
      {"series":"Timely Nominal Spending Growth minus 2%","year":2022.404,"value":5.93},
      {"series":"Timely Nominal Spending Growth minus 2%","year":2022.425,"value":5.83},
      {"series":"Timely Nominal Spending Growth minus 2%","year":2022.447,"value":5.73},
      {"series":"Timely Nominal Spending Growth minus 2%","year":2022.469,"value":5.52},
      {"series":"Timely Nominal Spending Growth minus 2%","year":2022.490,"value":4.69},
      {"series":"Timely Nominal Spending Growth minus 2%","year":2022.511,"value":4.59},
      {"series":"Timely Nominal Spending Growth minus 2%","year":2022.532,"value":4.48},
      {"series":"Timely Nominal Spending Growth minus 2%","year":2022.554,"value":4.90},
      {"series":"Timely Nominal Spending Growth minus 2%","year":2022.575,"value":4.69},
      {"series":"Timely Nominal Spending Growth minus 2%","year":2022.596,"value":4.27},
      {"series":"Timely Nominal Spending Growth minus 2%","year":2022.617,"value":3.86},
      {"series":"Timely Nominal Spending Growth minus 2%","year":2022.639,"value":4.27},
      {"series":"Timely Nominal Spending Growth minus 2%","year":2022.660,"value":5.10},
      {"series":"Timely Nominal Spending Growth minus 2%","year":2022.673,"value":4.79},
      {"series":"Timely Nominal Spending Growth minus 2%","year":2022.690,"value":4.59},
      {"series":"Timely Nominal Spending Growth minus 2%","year":2022.703,"value":4.90},
      {"series":"Timely Nominal Spending Growth minus 2%","year":2022.715,"value":4.69},
      {"series":"Timely Nominal Spending Growth minus 2%","year":2022.732,"value":6.14},
      {"series":"Timely Nominal Spending Growth minus 2%","year":2022.745,"value":6.87},
      {"series":"Timely Nominal Spending Growth minus 2%","year":2022.766,"value":6.56},
      {"series":"Timely Nominal Spending Growth minus 2%","year":2022.788,"value":6.45},
      {"series":"Timely Nominal Spending Growth minus 2%","year":2022.809,"value":6.76},
      {"series":"Timely Nominal Spending Growth minus 2%","year":2022.830,"value":7.07},
      {"series":"Timely Nominal Spending Growth minus 2%","year":2022.852,"value":6.87},
      {"series":"Timely Nominal Spending Growth minus 2%","year":2022.873,"value":6.76},
      {"series":"Timely Nominal Spending Growth minus 2%","year":2022.886,"value":6.35},
      {"series":"Timely Nominal Spending Growth minus 2%","year":2022.903,"value":5.93},
      {"series":"Timely Nominal Spending Growth minus 2%","year":2022.915,"value":5.52},
      {"series":"Timely Nominal Spending Growth minus 2%","year":2022.937,"value":5.41},
      {"series":"Timely Nominal Spending Growth minus 2%","year":2022.958,"value":5.52},
      {"series":"Timely Nominal Spending Growth minus 2%","year":2022.979,"value":6.24},
      {"series":"Timely Nominal Spending Growth minus 2%","year":2023.000,"value":6.14},
      {"series":"Timely Nominal Spending Growth minus 2%","year":2023.022,"value":5.73},
      {"series":"Timely Nominal Spending Growth minus 2%","year":2023.034,"value":5.31},
      {"series":"Timely Nominal Spending Growth minus 2%","year":2023.056,"value":5.93},
      {"series":"Timely Nominal Spending Growth minus 2%","year":2023.073,"value":5.83},
      {"series":"Timely Nominal Spending Growth minus 2%","year":2023.086,"value":5.31},
      {"series":"Timely Nominal Spending Growth minus 2%","year":2023.107,"value":5.93},
      {"series":"Timely Nominal Spending Growth minus 2%","year":2023.128,"value":6.04},
      {"series":"Timely Nominal Spending Growth minus 2%","year":2023.149,"value":6.24},
      {"series":"Timely Nominal Spending Growth minus 2%","year":2023.171,"value":5.93},
      {"series":"Timely Nominal Spending Growth minus 2%","year":2023.192,"value":5.73},
      {"series":"Timely Nominal Spending Growth minus 2%","year":2023.213,"value":5.62},
      {"series":"Timely Nominal Spending Growth minus 2%","year":2023.235,"value":5.41},
      {"series":"Timely Nominal Spending Growth minus 2%","year":2023.256,"value":5.52},
      {"series":"Timely Nominal Spending Growth minus 2%","year":2023.277,"value":5.31},
      {"series":"Timely Nominal Spending Growth minus 2%","year":2023.298,"value":5.10},
      {"series":"Timely Nominal Spending Growth minus 2%","year":2023.311,"value":4.27},
      {"series":"Timely Nominal Spending Growth minus 2%","year":2023.328,"value":3.65},
      {"series":"Timely Nominal Spending Growth minus 2%","year":2023.341,"value":3.55},
      {"series":"Timely Nominal Spending Growth minus 2%","year":2023.354,"value":3.76},
      {"series":"Timely Nominal Spending Growth minus 2%","year":2023.371,"value":4.07},
      {"series":"Timely Nominal Spending Growth minus 2%","year":2023.383,"value":4.27},
      {"series":"Timely Nominal Spending Growth minus 2%","year":2023.396,"value":4.79},
      {"series":"Timely Nominal Spending Growth minus 2%","year":2023.413,"value":4.69},
      {"series":"Timely Nominal Spending Growth minus 2%","year":2023.439,"value":4.90},
      {"series":"Timely Nominal Spending Growth minus 2%","year":2023.456,"value":5.00},
      {"series":"Timely Nominal Spending Growth minus 2%","year":2023.473,"value":5.10},
      {"series":"Timely Nominal Spending Growth minus 2%","year":2023.490,"value":4.90},
      {"series":"Timely Nominal Spending Growth minus 2%","year":2023.511,"value":5.00},
      {"series":"Timely Nominal Spending Growth minus 2%","year":2023.524,"value":4.79},
      {"series":"Timely Nominal Spending Growth minus 2%","year":2023.541,"value":4.69},
      {"series":"Timely Nominal Spending Growth minus 2%","year":2023.554,"value":4.17},
      {"series":"Timely Nominal Spending Growth minus 2%","year":2023.567,"value":4.11}
    ]
  },
  "spacing": 93,
  "bounds": "flush",
  "resolve": {"scale": {"color": "independent"}, "legend": {"color": "independent"}},
  "hconcat": [
    {
      "width": 333,
      "height": 257,
      "data": {"name": "left"},
      "layer": [
        {
          "data": {"values": [{"level": 0}]},
          "mark": {"type": "rule", "color": "#7d7d7d", "strokeWidth": 2.5},
          "encoding": {
            "y": {"field": "level", "type": "quantitative", "scale": {"domain": [-5, 12.5], "nice": false, "zero": false},
                  "axis": {"orient": "right", "values": [-5, -2.5, 0, 2.5, 5, 7.5, 10, 12.5], "labelExpr": "(datum.value < 0 ? '-' : '') + format(abs(datum.value), '.1f') + '%'", "title": null, "domain": false, "tickSize": 6, "labelPadding": 8}}
          }
        },
        {
          "transform": [{"filter": "datum.series === 'USA NGDP Growth minus 2% (Y/Y)'"}],
          "mark": {"type": "line", "interpolate": "step-after", "strokeWidth": 1.8, "clip": true},
          "encoding": {
            "x": {"field": "year", "type": "quantitative", "scale": {"domain": [1966.6, 2026.3], "nice": false, "zero": false},
                  "axis": {"orient": "bottom", "values": [1980, 2000, 2020], "format": "d", "title": null, "domain": false, "ticks": false, "tickSize": 0, "labelPadding": 11}},
            "y": {"field": "value", "type": "quantitative",
                  "axis": {"orient": "right", "values": [-5, -2.5, 0, 2.5, 5, 7.5, 10, 12.5], "labelExpr": "(datum.value < 0 ? '-' : '') + format(abs(datum.value), '.1f') + '%'", "title": null, "domain": false, "tickSize": 6, "labelPadding": 8}},
            "color": {"field": "series", "type": "nominal",
                      "scale": {"domain": ["USA Wage Growth (Y/Y)", "USA NGDP Growth minus 2% (Y/Y)"], "range": ["#3a4ea6", "#e3212d"]},
                      "legend": {"orient": "none", "legendX": 56, "legendY": -49, "title": null}}
          }
        },
        {
          "transform": [{"filter": "datum.series === 'USA Wage Growth (Y/Y)'"}],
          "mark": {"type": "line", "strokeWidth": 2.4, "clip": true},
          "encoding": {
            "x": {"field": "year", "type": "quantitative",
                  "axis": {"orient": "bottom", "values": [1980, 2000, 2020], "labels": false, "title": null, "domain": false, "ticks": true, "tickSize": 6, "offset": -73.4}},
            "y": {"field": "value", "type": "quantitative",
                  "axis": {"orient": "right", "values": [-5, -2.5, 0, 2.5, 5, 7.5, 10, 12.5], "labelExpr": "(datum.value < 0 ? '-' : '') + format(abs(datum.value), '.1f') + '%'", "title": null, "domain": false, "tickSize": 6, "labelPadding": 8}},
            "color": {"field": "series", "type": "nominal",
                      "scale": {"domain": ["USA Wage Growth (Y/Y)", "USA NGDP Growth minus 2% (Y/Y)"], "range": ["#3a4ea6", "#e3212d"]},
                      "legend": {"orient": "none", "legendX": 56, "legendY": -49, "title": null}}
          }
        }
      ],
      "resolve": {"axis": {"x": "independent"}}
    },
    {
      "width": 336,
      "height": 257,
      "data": {"name": "right"},
      "layer": [
        {
          "data": {"values": [{"level": 0}]},
          "mark": {"type": "rule", "color": "#7d7d7d", "strokeWidth": 2.5},
          "encoding": {
            "y": {"field": "level", "type": "quantitative", "scale": {"domain": [-3, 13], "nice": false, "zero": false},
                  "axis": {"orient": "right", "values": [-2.5, 0, 2.5, 5, 7.5, 10, 12.5], "labelExpr": "(datum.value < 0 ? '-' : '') + format(abs(datum.value), '.1f') + '%'", "title": null, "domain": false, "tickSize": 6, "labelPadding": 8}}
          }
        },
        {
          "transform": [{"filter": "datum.series === 'Timely Nominal Spending Growth minus 2%'"}],
          "mark": {"type": "line", "strokeWidth": 1.8, "clip": true},
          "encoding": {
            "x": {"field": "year", "type": "quantitative", "scale": {"domain": [2019.68, 2023.97], "nice": false, "zero": false},
                  "axis": {"orient": "bottom", "values": [2020, 2021, 2022, 2023], "format": "d", "title": null, "domain": false, "ticks": false, "tickSize": 0, "labelPadding": 11}},
            "y": {"field": "value", "type": "quantitative",
                  "axis": {"orient": "right", "values": [-2.5, 0, 2.5, 5, 7.5, 10, 12.5], "labelExpr": "(datum.value < 0 ? '-' : '') + format(abs(datum.value), '.1f') + '%'", "title": null, "domain": false, "tickSize": 6, "labelPadding": 8}},
            "color": {"field": "series", "type": "nominal",
                      "scale": {"domain": ["USA Wage Growth (Y/Y)", "Timely Nominal Spending Growth minus 2%"], "range": ["#3a4ea6", "#e3212d"]},
                      "legend": {"orient": "none", "legendX": 34, "legendY": -49, "title": null}}
          }
        },
        {
          "transform": [{"filter": "datum.series === 'USA Wage Growth (Y/Y)'"}],
          "mark": {"type": "line", "interpolate": "step-after", "strokeWidth": 2.2, "clip": true},
          "encoding": {
            "x": {"field": "year", "type": "quantitative",
                  "axis": {"orient": "bottom", "values": [2020, 2021, 2022, 2023], "labels": false, "title": null, "domain": false, "ticks": true, "tickSize": 6, "offset": -48.2}},
            "y": {"field": "value", "type": "quantitative",
                  "axis": {"orient": "right", "values": [-2.5, 0, 2.5, 5, 7.5, 10, 12.5], "labelExpr": "(datum.value < 0 ? '-' : '') + format(abs(datum.value), '.1f') + '%'", "title": null, "domain": false, "tickSize": 6, "labelPadding": 8}},
            "color": {"field": "series", "type": "nominal",
                      "scale": {"domain": ["USA Wage Growth (Y/Y)", "Timely Nominal Spending Growth minus 2%"], "range": ["#3a4ea6", "#e3212d"]},
                      "legend": {"orient": "none", "legendX": 34, "legendY": -49, "title": null}}
          }
        }
      ],
      "resolve": {"axis": {"x": "independent"}}
    }
  ],
  "config": {
    "font": "Lato",
    "view": {"stroke": "#b8b8b8", "strokeWidth": 1},
    "axis": {"labelFont": "Lato", "labelFontSize": 14, "labelColor": "#3c3c3c", "grid": false, "tickColor": "#a0a0a0", "tickWidth": 1},
    "legend": {"labelFont": "Lato", "labelFontSize": 14, "labelColor": "#3c3c3c", "symbolType": "stroke", "symbolSize": 1156, "symbolStrokeWidth": 2, "clipHeight": 14, "rowPadding": 6, "labelOffset": 5, "padding": 0, "labelLimit": 400}
  }
}
